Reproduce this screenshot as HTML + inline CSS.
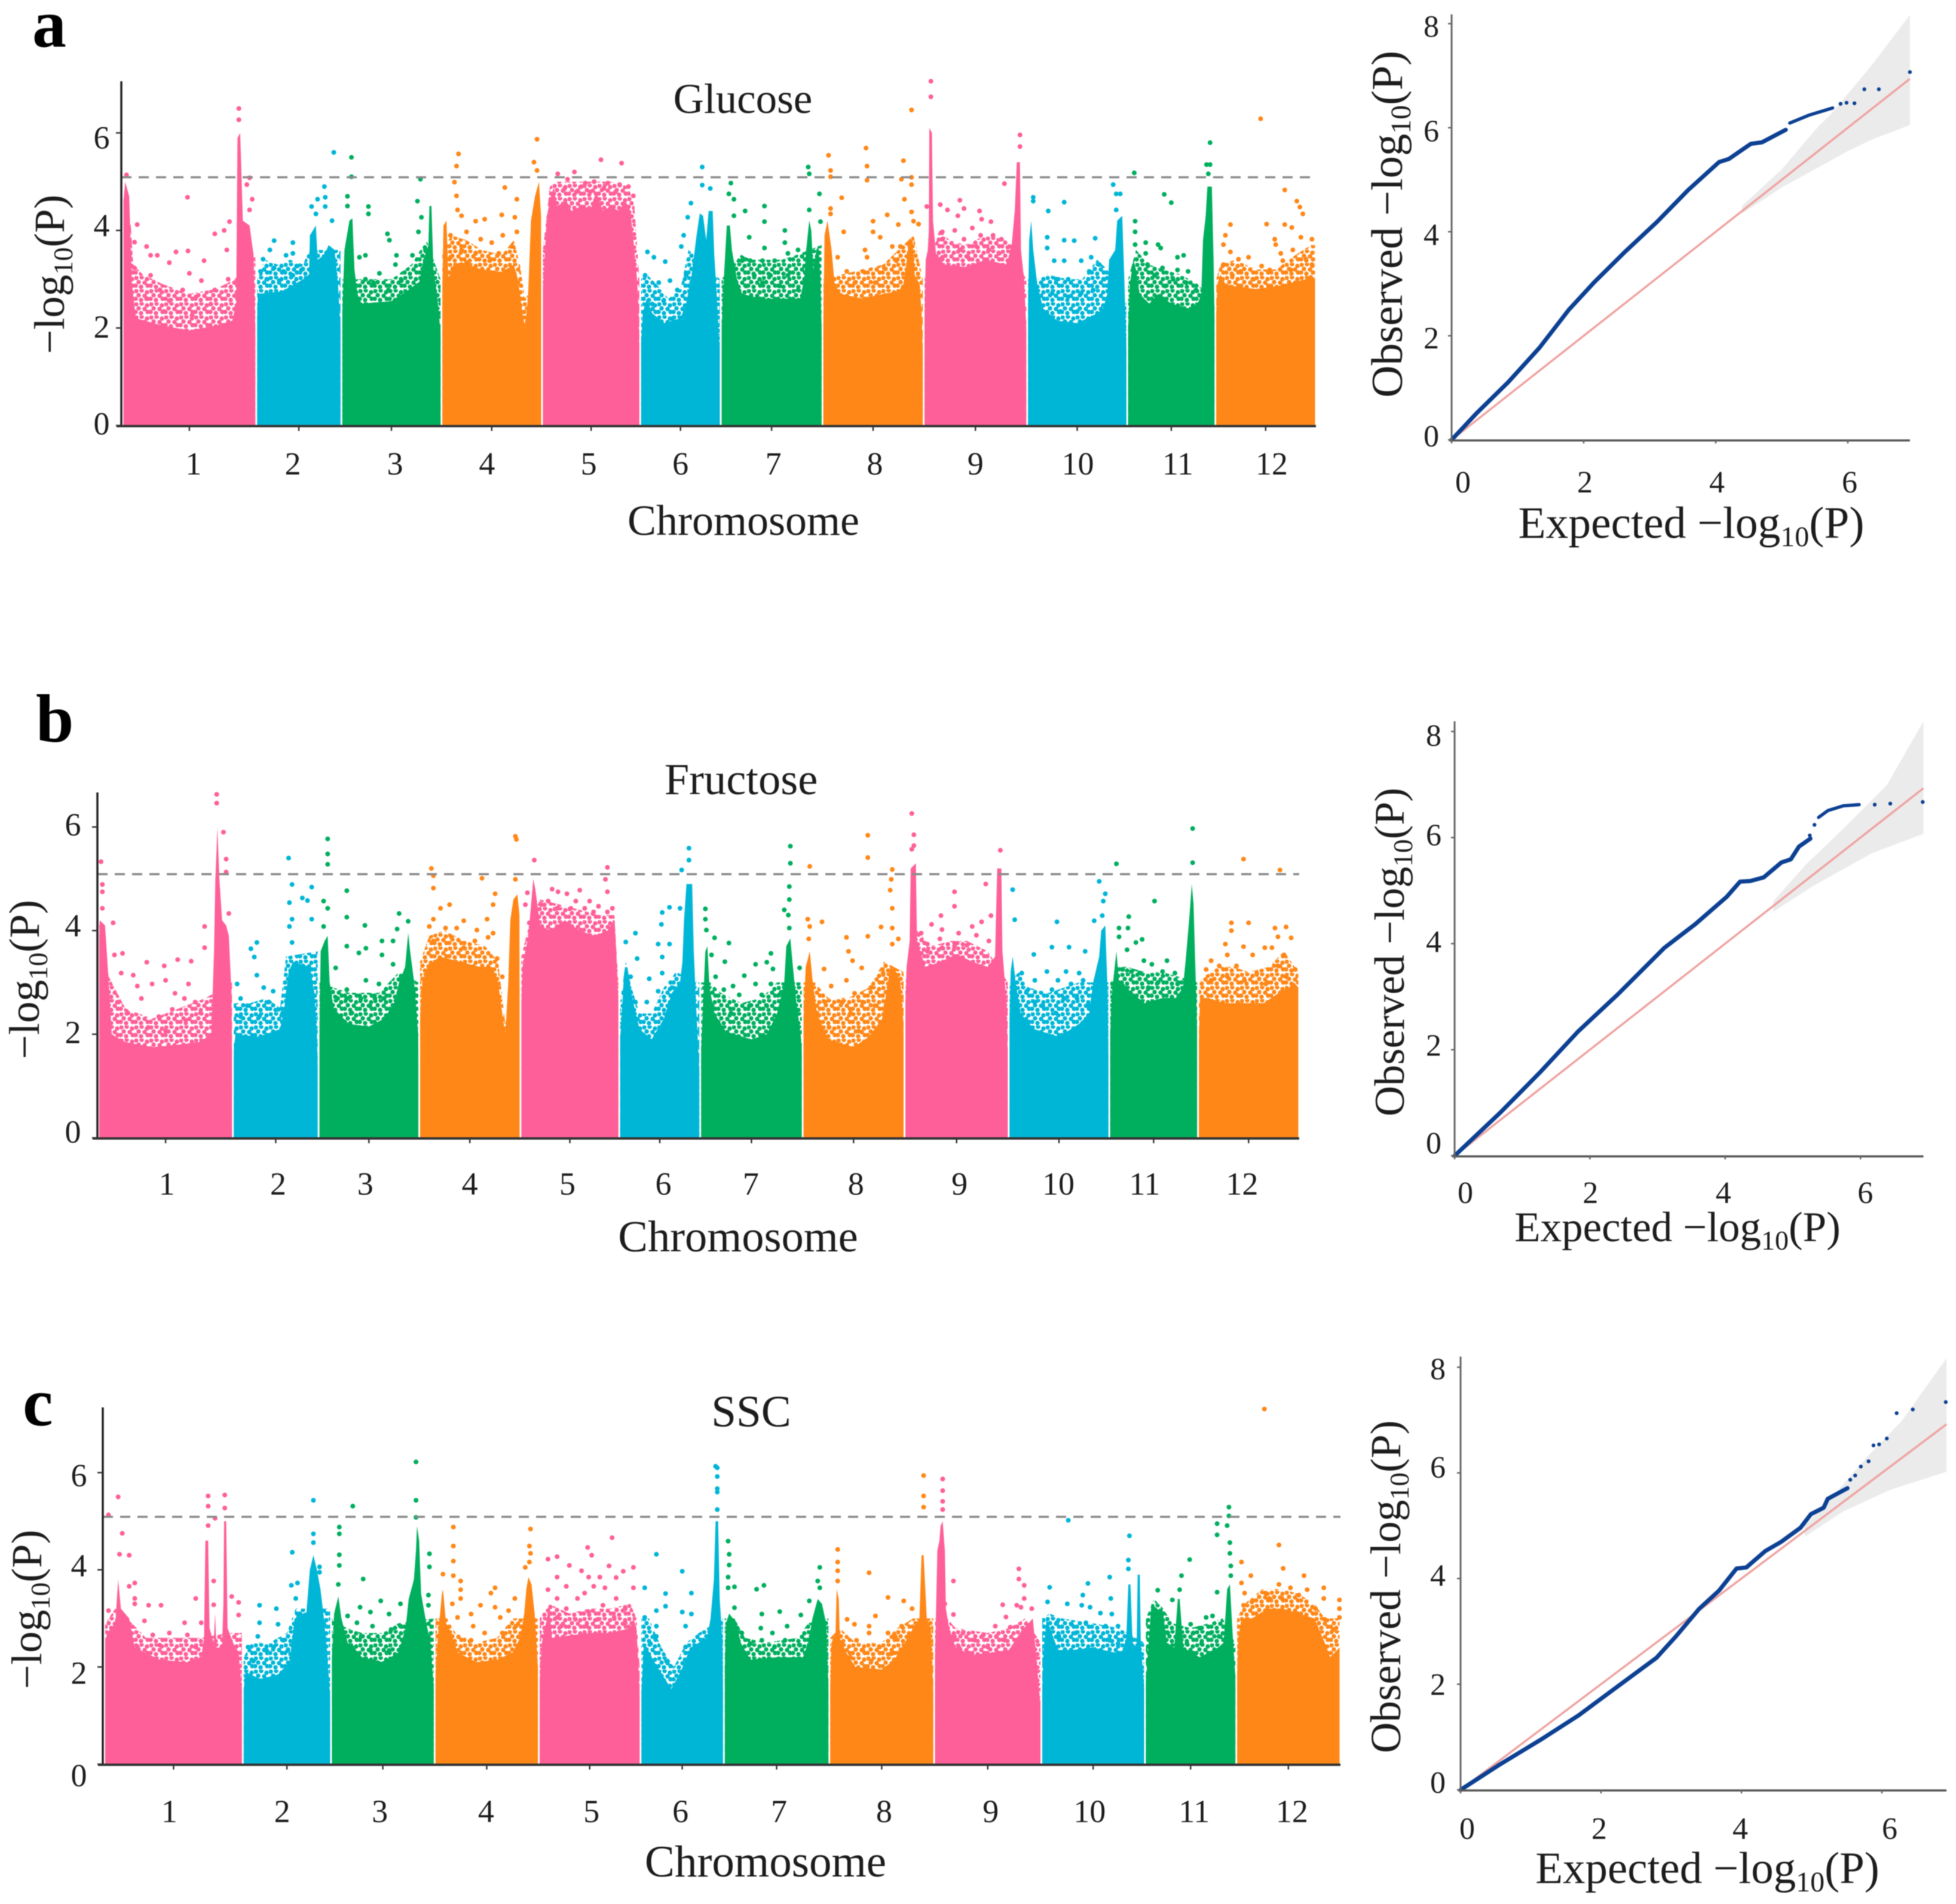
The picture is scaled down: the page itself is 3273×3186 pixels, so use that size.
<!DOCTYPE html>
<html lang="en">
<head>
<meta charset="utf-8">
<title>GWAS Manhattan and QQ plots for glucose, fructose and SSC</title>
<style>
html,body{margin:0;padding:0;background:#fff}
svg{display:block;filter:blur(.7px)}
text{font-family:"Liberation Serif",serif;fill:#1c1c1c}
.title{font-size:71px;text-anchor:middle}
.axt{font-size:72px;text-anchor:middle}
.panel{font-size:114px;font-weight:bold;fill:#000}
</style>
</head>
<body>
<svg id="fig" xmlns="http://www.w3.org/2000/svg" width="3273" height="3186" viewBox="0 0 3273 3186">
<defs id="patterns"></defs>
<rect x="0" y="0" width="3273" height="3186" fill="#fff"/>
<g id="charts"></g>

<text class="panel" x="54" y="78">a</text>
<text class="panel" x="60" y="1241">b</text>
<text class="panel" x="38" y="2385">c</text>

<text class="title" x="1243" y="189">Glucose</text>
<text class="title" style="font-size:74.5px" x="1240" y="1329">Fructose</text>
<text class="title" style="font-size:75px" x="1257" y="2387">SSC</text>

<text class="axt" x="1244" y="895">Chromosome</text>
<text class="axt" style="font-size:74.5px" x="1235" y="2094">Chromosome</text>
<text class="axt" style="font-size:75px" x="1281" y="3140">Chromosome</text>

<text class="axt" transform="translate(107 459) rotate(-90)">−log<tspan font-size="46" dy="14">10</tspan><tspan dy="-14">(P)</tspan></text>
<text class="axt" transform="translate(65 1639) rotate(-90)">−log<tspan font-size="46" dy="14">10</tspan><tspan dy="-14">(P)</tspan></text>
<text class="axt" transform="translate(69 2693) rotate(-90)">−log<tspan font-size="46" dy="14">10</tspan><tspan dy="-14">(P)</tspan></text>

<text class="axt" style="font-size:74.5px" transform="translate(2346 375) rotate(-90)">Observed −log<tspan font-size="48" dy="14">10</tspan><tspan dy="-14">(P)</tspan></text>
<text class="axt" style="font-size:70.5px" transform="translate(2349 1593) rotate(-90)">Observed −log<tspan font-size="46" dy="14">10</tspan><tspan dy="-14">(P)</tspan></text>
<text class="axt" style="font-size:71.5px" transform="translate(2343 2655) rotate(-90)">Observed −log<tspan font-size="46" dy="14">10</tspan><tspan dy="-14">(P)</tspan></text>

<text class="axt" style="font-size:75.5px" x="2830" y="900">Expected −log<tspan font-size="48" dy="14">10</tspan><tspan dy="-14">(P)</tspan></text>
<text class="axt" style="font-size:71px" x="2807" y="2077">Expected −log<tspan font-size="46" dy="14">10</tspan><tspan dy="-14">(P)</tspan></text>
<text class="axt" style="font-size:75px" x="2857" y="3151">Expected −log<tspan font-size="48" dy="14">10</tspan><tspan dy="-14">(P)</tspan></text>
</svg>

<script>
// ---------- shared data ----------
const chromLabels = ['1','2','3','4','5','6','7','8','9','10','11','12'];
const chromLengths = [226,144,169,170,166,136,172,171,175,169,149,170];
const manhattanTicks = [0,2,4,6];
const qqYTicks = [0,2,4,6,8];
const qqXTicks = [0,2,4,6];
const significanceLevel = 5.09;

// Per chromosome: flat pairs of (percent along chromosome, -log10 P).
// "Solid" is the top of the dense SNP mass, "Fringe" the top of the speckled band above it,
// "Dots" are the visible individual SNPs.
const glucoseSolid = [
[0,4.6,2,5.0,5,4.7,7,2.9,10,2.2,30,2.05,50,1.95,70,2.05,82,2.15,85,2.5,86,5.9,88,6.0,90,4.2,95,4.1,98,3.5,100,2.0],
[0,2.2,2,2.7,30,2.75,55,3.0,62,3.1,63,3.9,70,4.1,72,3.4,80,3.5,85,3.7,92,3.6,96,2.9,100,2.0],
[0,2.3,3,3.6,8,4.2,11,4.25,13,3.2,16,2.7,20,2.5,50,2.55,65,2.75,78,2.95,82,3.4,87,3.7,88,4.5,90,4.5,92,3.2,96,2.6,100,1.9],
[0,2.8,2,4.1,5,4.2,7,3.0,12,3.3,20,3.35,40,3.2,60,3.15,72,3.3,76,3.0,80,2.4,83,2.0,86,2.6,89,4.2,93,4.7,97,5.0,99,4.3,100,2.5],
[0,2.8,3,3.6,5,4.3,8,4.6,12,4.9,15,4.5,25,4.6,30,4.4,40,4.5,50,4.45,55,4.8,62,4.4,70,4.5,78,4.4,85,4.6,90,4.4,93,3.8,96,3.2,98,2.6,100,1.6],
[0,1.7,3,2.3,8,2.6,15,2.3,30,2.1,50,2.2,57,2.5,64,3.1,70,3.9,74,4.35,78,4.3,82,3.8,85,4.4,90,4.4,92,3.5,95,2.7,100,1.5],
[0,2.0,3,3.0,6,4.1,9,4.1,11,3.6,16,3.0,21,2.7,40,2.6,60,2.6,78,2.6,82,3.0,84,3.6,87,4.2,89,4.0,91,3.2,94,3.6,96,3.7,98,3.0,100,2.0],
[0,2.1,2,3.9,5,4.2,9,3.6,12,2.9,18,2.7,40,2.6,60,2.7,75,2.75,80,2.9,84,3.5,85,3.8,89,3.8,91,3.1,96,2.9,98,2.3,100,1.5],
[0,2.2,2,3.4,4,3.6,5,4.0,5.5,6.1,8,6.0,9,4.2,12,3.5,20,3.3,40,3.25,60,3.4,80,3.3,85,3.7,88,4.4,90,5.4,93,5.4,94,3.6,97,3.0,100,2.0],
[0,2.5,2,3.8,4,4.2,6,3.6,10,2.9,16,2.4,30,2.15,50,2.1,70,2.3,76,2.4,80,2.7,82,3.4,88,3.6,90,4.2,95,4.3,97,3.1,100,1.6],
[0,2.0,3,2.9,7,3.4,10,3.2,14,2.7,25,2.5,35,2.7,50,2.5,70,2.4,80,2.5,84,2.7,86,3.8,89,4.3,91,4.9,96,4.9,98,3.4,100,2.2],
[0,2.3,2,2.9,5,3.1,10,2.9,20,2.85,40,2.8,60,2.85,80,2.95,90,3.0,95,3.1,100,3.0]
];
const glucoseFringe = [
[0,4.8,6,4.2,8,3.3,15,3.1,30,2.9,50,2.7,70,2.8,84,3.0,100,3.5],
[0,3.0,10,3.4,25,3.3,40,3.4,55,3.3,62,3.6,100,3.6],
[0,3.0,15,3.0,25,3.0,50,3.0,70,3.3,85,3.8,100,3.0],
[0,3.6,10,3.9,25,3.8,40,3.6,60,3.5,72,3.8,78,3.3,83,2.6,100,3.0],
[0,3.6,8,4.9,15,5.0,30,5.0,50,5.0,70,5.0,88,4.9,94,4.5,100,3.0],
[0,3.0,8,3.1,20,2.9,35,2.6,50,2.8,60,3.6,100,3.0],
[0,3.0,20,3.5,30,3.4,60,3.4,75,3.5,100,3.7],
[0,3.0,20,3.1,40,3.2,60,3.3,75,3.6,90,3.9,100,3.0],
[0,3.0,15,4.0,25,3.8,40,3.7,60,3.9,80,3.8,100,3.0],
[0,3.0,12,3.0,20,3.1,40,3.0,55,3.0,70,3.4,80,3.2,100,2.5],
[0,3.0,10,3.6,25,3.3,40,3.2,60,3.1,80,2.9,100,2.5],
[0,3.0,5,3.3,20,3.4,40,3.2,60,3.2,80,3.5,95,3.7,100,3.7]
];
const glucoseDots = [
[87,6.5,87,6.27,3,5.14,95,5.08,93,4.94,97,4.64,95,4.42,48.6,4.68,11,4.12,9,3.76,18,3.67,21,3.49,26,3.49,40,3.56,49,3.58,35,3.34,61,3.38,69,3.93,76,4.0,80,4.18,78,3.6,9,3.23,21,3.08,50,3.12,59,2.97,28,2.78,45,2.78,69,2.78,18,2.6,35,2.56,55,2.64,79,3.0,31,2.34,52,2.26,66,2.49],
[91,5.6,80,4.9,81,4.68,72,4.64,65,4.49,70,4.34,81,4.49,89,4.2,21,3.79,43,3.75,16,3.6,35,3.49,43,3.53,8,3.41,21,3.23,48,3.27,5,3.16,32,3.16,53,3.19,13,3.0,27,2.97,43,3.08],
[10,5.5,10,5.1,6,4.7,6,4.5,27,4.49,27,4.34,46,3.93,48,3.8,79,5.05,76,4.6,80,4.27,77,3.97,24,3.49,18,3.45,55,3.49,71,3.49,84,3.6,38,3.12,54,3.3,24,3.0,32,2.93,47,2.78,60,2.97,24,2.41,38,2.34,56,2.3],
[17,5.57,15,5.32,13,4.99,15,4.71,16,4.42,20,4.3,92,5.4,95,5.87,95,5.23,63,4.88,75,4.64,60,4.32,73,4.27,43,4.23,34,4.19,75,3.97,61,3.9,25,3.97,39,3.82,9,3.9,50,3.75,20,3.6,34,3.53,70,3.67,9,3.45,48,3.38,25,3.34,57,3.53],
[16,5.16,33,5.2,60,5.45,81,5.38,26,5.05,44,4.97,53,5.0,67,4.97,88,4.9,79,4.94,40,4.9,23,4.86,63,4.86,93,4.71,9,4.64,35,4.79,75,4.79,49,4.79],
[77,5.3,77,4.93,87,4.86,63,4.56,59,4.27,54,3.9,9,3.56,17,3.45,31,3.36,51,3.67,23,2.93,37,2.97,6,3.08,29,2.56,46,2.78,57,3.08,15,2.49,40,2.19],
[10,4.97,8,4.75,13,4.64,24,4.4,43,4.5,43,4.18,13,4.3,28,3.86,63,4.0,86,5.3,87,5.16,97,4.75,87,4.42,98,4.18,43,3.64,63,3.75,76,3.6,21,3.38,29,3.38,41,3.38,53,3.38,66,3.53,33,3.08,49,3.08,66,3.08,25,2.86,58,2.86,76,2.78,41,2.93],
[6,5.54,8,5.23,8,5.1,19,4.67,8,4.45,8,4.34,43,5.69,44,5.32,44,5.03,80,5.43,78,5.05,88,6.47,88,5.09,88,4.94,81,4.64,88,4.38,90,4.19,95,4.13,64,4.32,50,4.19,50,3.97,75,4.12,21,3.97,57,3.86,42,3.6,69,3.67,77,3.67,15,3.45,44,3.45,24,3.16,61,3.23,40,3.16,73,3.38,32,2.93,52,2.93],
[7,7.06,7,6.74,3,4.49,16,4.53,23,4.42,35,4.62,39,4.45,54,4.4,33,4.3,56,4.23,65,4.18,78,4.96,93,5.96,93,5.72,18,3.97,30,4.0,47,4.05,18,3.82,39,3.82,55,3.9,67,3.9,75,3.82,35,3.6,51,3.67,63,3.6,83,3.67,43,3.45,18,3.45,73,3.53],
[6,4.68,6,4.6,21,4.4,37,4.58,86,4.94,89,4.75,93,4.75,89,4.42,20,3.86,37,3.8,47,3.79,68,3.84,20,3.64,27,3.38,37,3.38,54,3.38,64,3.45,72,3.3,29,3.0,41,3.0,62,3.16,77,3.0,16,2.86,25,2.71,41,2.64,54,2.71,66,2.78,33,2.34,50,2.34],
[8,5.18,94,5.8,90,5.35,94,5.35,92,5.16,42,4.74,50,4.57,9,4.19,9,3.97,9,3.71,21,3.75,35,3.71,38,3.64,21,3.53,57,3.45,64,3.49,23,3.3,40,3.23,57,3.19,69,3.16,31,3.08,52,3.0,67,2.93,78,2.78,43,2.86],
[45,6.29,69,4.83,81,4.6,84,4.48,87,4.34,15,4.12,51,4.13,69,4.12,76,4.06,10,3.9,59,3.82,60,3.71,85,3.86,96,3.82,8,3.71,15,3.56,65,3.53,77,3.6,33,3.45,23,3.41,8,3.3,46,3.27,67,3.38,90,3.41,25,3.16,54,3.19,38,3.0,75,3.19,96,3.3,17,3.08]
];

const fructoseSolid = [
[0,3.9,1,4.2,5,4.1,8,2.9,10,2.0,20,1.85,40,1.75,60,1.8,75,1.85,84,2.0,86,3.6,87,5.0,88.5,6.0,90,5.0,92,4.2,95,4.1,97,3.9,99,2.8,100,1.6],
[0,1.7,3,2.0,30,1.95,55,2.1,60,2.5,65,3.2,70,3.4,80,3.35,90,3.3,95,2.8,98,2.0,100,1.4],
[0,2.0,2,3.6,6,3.8,9,3.9,11,3.0,15,2.5,30,2.2,50,2.15,65,2.3,75,2.6,80,3.0,86,3.3,89,3.95,91,3.6,95,3.0,99,2.0,100,1.4],
[0,2.3,3,3.0,8,3.3,20,3.5,40,3.4,60,3.3,72,3.3,78,3.0,82,2.4,85,2.0,88,3.0,90,4.2,93,4.6,97,4.7,99,4.3,100,2.6],
[0,2.6,2,3.3,8,3.9,13,5.0,15,4.8,20,4.1,30,4.0,45,4.2,60,4.0,75,3.9,88,4.0,95,4.2,97,3.6,99,2.6,100,1.6],
[0,1.9,3,2.4,6,3.2,10,3.3,16,2.7,25,2.1,40,1.9,55,2.3,65,2.8,75,3.0,78,3.4,80,4.2,83,4.9,90,4.9,92,3.6,95,2.5,100,1.3],
[0,1.7,3,2.7,5,3.6,7,3.7,9,2.9,14,2.4,25,2.05,50,1.9,65,2.0,75,2.4,82,3.0,84,3.7,88,3.85,90,3.4,94,2.6,98,2.0,100,1.7],
[0,2.3,3,3.3,7,3.6,10,3.0,14,2.4,25,1.9,50,1.75,65,1.95,78,2.3,83,2.9,86,3.3,92,3.2,96,3.0,99,2.2,100,1.7],
[0,2.6,2,3.3,5,3.8,6,5.2,11,5.3,12,3.8,20,3.3,35,3.4,50,3.55,65,3.4,80,3.3,87,3.5,89,5.2,93,5.2,94,3.6,98,2.6,100,1.6],
[0,2.3,2,3.2,4,3.5,7,3.0,12,2.4,25,2.1,50,1.95,70,2.2,80,2.4,84,3.0,90,3.5,92,4.0,96,4.1,98,3.0,100,1.6],
[0,2.0,3,2.8,8,3.6,11,3.0,15,3.0,25,2.8,40,2.6,60,2.7,75,2.7,83,2.9,86,3.4,90,4.2,93,4.9,95,4.5,97,3.3,100,2.1],
[0,1.9,2,2.7,10,2.7,25,2.6,45,2.6,65,2.6,80,2.8,90,2.9,95,3.0,100,2.9]
];
const fructoseFringe = [
[0,4.3,8,3.1,20,2.5,40,2.3,60,2.5,80,2.7,100,3.0],
[0,2.6,20,2.6,40,2.7,55,2.5,62,3.5,100,3.6],
[0,3.0,15,2.9,30,2.8,60,2.8,80,3.2,100,3.0],
[0,3.4,10,3.9,25,4.0,45,3.8,65,3.7,78,3.4,85,2.2,100,3.0],
[0,3.5,10,4.2,20,4.6,40,4.5,60,4.4,80,4.3,95,4.3,100,3.0],
[0,2.6,8,3.4,15,2.9,25,2.4,40,2.4,55,2.9,70,3.2,100,3.0],
[0,3.0,10,3.0,20,2.8,40,2.6,60,2.7,75,3.0,100,3.0],
[0,3.0,12,3.0,25,2.7,45,2.7,65,2.9,80,3.4,100,3.2],
[0,3.0,12,4.0,25,3.7,45,3.8,60,3.8,80,3.6,100,3.0],
[0,3.0,10,3.2,20,2.9,40,2.8,55,2.9,70,3.0,80,3.0,100,3.0],
[0,3.0,10,3.3,20,3.3,40,3.2,60,3.2,80,3.1,100,3.0],
[0,3.0,5,3.1,20,3.3,35,3.3,50,3.2,70,3.3,85,3.6,100,3.2]
];
const fructoseDots = [
[88,6.63,88,6.46,93,5.9,2,5.33,3,4.89,3,4.75,3,4.43,11,4.15,95,5.38,95,5.13,97,4.33,79,4.08,79,3.67,12,3.53,18,3.56,36,3.39,49,3.32,59,3.44,69,3.41,17,3.18,26,3.14,50,3.04,67,2.97,29,2.93,40,2.97,57,2.79,15,2.62,32,2.69,64,2.69,72,2.62,45,2.34,22,2.41,55,2.48,37,2.13,50,2.06,65,2.27,76,2.41],
[65,5.4,69,4.89,92,4.84,81,4.63,66,4.54,87,4.58,69,4.22,92,4.22,66,4.08,28,3.77,21,3.65,25,3.49,69,3.77,28,3.14,5,2.97,9,2.69,36,2.9,47,2.83,17,2.55,42,2.62,53,2.48,9,2.34,31,2.34,58,2.41],
[9,5.77,9,5.48,9,5.28,28,4.77,5,4.57,9,4.43,28,4.26,46,4.1,80,4.33,89,4.18,5,4.08,78,4.03,28,3.7,47,3.66,40,3.57,63,3.8,74,3.8,63,3.53,74,3.35,17,3.28,47,3.04,28,2.86,60,2.97,19,2.69,42,2.69,65,2.69,28,2.69,56,2.69,33,2.41,60,2.2,51,2.55],
[95,5.82,96,5.76,12,5.2,14,5.06,14,4.82,62,5.01,95,4.99,75,4.71,73,4.5,30,4.5,21,4.43,14,4.22,44,4.19,67,4.22,10,4.08,26,4.05,37,4.05,57,4.01,73,3.95,55,3.8,32,3.87,14,3.8,68,3.87,44,3.67,77,3.46,82,3.11],
[14,5.36,88,5.22,86,4.99,88,4.75,7,4.73,5,4.5,9,4.15,32,4.8,60,4.78,47,4.71,38,4.75,70,4.57,93,4.43,28,4.57,79,4.47,56,4.57,65,4.43,21,4.5,37,4.43,51,4.43,88,4.36,74,4.36],
[86,5.59,86,5.36,77,5.17,20,3.95,8,3.78,75,4.43,62,4.45,53,4.35,52,4.12,48,3.74,62,3.74,22,3.46,53,3.49,37,3.07,53,3.18,14,3.11,48,2.83,20,2.62,34,2.62,65,2.9],
[88,5.63,88,5.3,87,4.85,87,4.6,82,4.4,86,4.3,87,4.05,5,4.42,5,4.22,6,4.01,14,3.86,28,3.76,11,3.53,24,3.4,69,3.56,54,3.35,65,3.39,71,3.26,43,3.13,97,3.28,15,3.11,54,2.97,32,2.93,69,2.97,23,2.86,38,2.76,60,2.76,48,2.55,77,2.76,30,2.41,65,2.55],
[64,5.84,64,5.41,7,5.24,88,5.18,87,4.99,86,4.78,88,4.43,5,4.22,7,4.08,19,4.17,6,3.84,43,3.87,64,3.89,77,4.07,88,4.05,94,3.84,45,3.6,49,3.42,88,3.74,21,3.26,58,3.28,43,3.04,28,2.93,79,3.18,67,2.9,51,2.79,22,2.62,39,2.62,59,2.62,14,2.41,47,2.41,71,2.55,26,2.13,55,2.06],
[7,6.26,9,5.85,9,5.64,7,5.57,92,5.55,78,4.9,48,4.75,48,4.47,35,4.29,83,4.29,74,4.17,26,4.12,36,4.02,16,3.95,65,4.08,52,3.95,69,3.91,34,3.84,22,3.74,60,3.72,36,3.67,81,3.8,48,3.7,22,3.6],
[4,4.79,6,4.21,48,4.17,90,4.95,96,4.71,94,4.57,85,4.19,93,4.29,43,3.68,60,3.68,25,3.54,76,3.6,38,3.21,57,3.21,70,3.18,13,3.18,26,3.04,49,3.04,62,2.97,74,3.04,18,2.83,43,2.86,55,2.69,68,2.69,26,2.62,47,2.41,34,2.55,80,2.55],
[94,5.97,94,5.31,8,5.29,51,4.57,22,4.27,11,4.05,21,4.05,11,3.88,37,3.83,30,3.77,20,3.63,15,3.25,25,3.21,39,3.42,48,3.35,65,3.42,74,3.18,60,3.21,34,3.18,55,3.0,77,2.97,44,2.9],
[45,5.38,81,5.17,33,4.15,50,4.15,33,4.0,76,4.05,87,4.07,79,3.88,92,3.86,27,3.74,45,3.69,66,3.67,13,3.42,29,3.53,54,3.53,73,3.67,85,3.53,8,3.25,21,3.32,38,3.32,58,3.18,79,3.32,96,3.25,46,3.04,29,3.11,67,2.97,87,3.11,13,3.04]
];

const sscSolid = [
[0,2.5,2,2.7,8,2.9,10,3.8,12,3.2,18,3.0,22,2.4,40,2.15,60,2.1,70,2.2,72,2.6,73,4.6,75,4.6,76,2.8,79,2.5,80,3.1,81,2.4,85,2.4,86,3.3,86.5,5.0,88,5.0,89,2.8,93,2.5,97,2.3,100,1.5],
[0,1.5,3,1.9,20,1.75,40,1.85,53,2.1,58,2.9,62,3.1,72,3.1,76,4.0,80,4.3,84,4.0,88,3.6,92,3.0,96,2.2,100,1.4],
[0,2.2,3,3.1,7,3.45,10,3.0,16,2.5,30,2.2,50,2.1,65,2.3,72,2.8,75,3.4,80,3.8,82,4.4,83,4.9,85,4.6,87,3.5,92,2.9,96,2.5,100,1.6],
[0,1.8,3,2.6,7,3.5,8,3.6,11,2.9,16,2.7,22,2.3,40,2.1,60,2.15,75,2.3,82,2.6,86,3.1,88,3.6,90,3.85,93,3.7,96,3.1,100,2.0],
[0,1.7,3,2.5,8,3.0,10,3.3,13,2.6,30,2.65,50,2.7,70,2.7,90,2.8,93,3.0,96,2.8,98,2.0,100,1.4],
[0,1.5,4,2.5,20,2.0,37,1.55,48,1.9,60,2.4,70,2.5,80,2.6,84,3.0,88,3.8,90,5.0,93,5.0,95,3.4,98,2.6,100,1.5],
[0,2.0,2,2.9,5,3.1,12,2.9,16,2.5,25,2.15,50,2.2,75,2.2,80,2.5,84,3.0,89,3.4,93,3.3,97,2.9,100,1.6],
[0,1.6,2,2.5,6,2.7,7,3.6,9,3.4,10,2.6,16,2.3,25,2.0,50,1.95,62,2.15,72,2.5,80,2.8,86,3.0,88,4.3,90,4.3,93,3.0,97,2.8,100,1.5],
[0,2.2,2,3.4,3,4.4,5,4.6,6,4.9,8,5.0,10,4.4,11,3.2,14,2.8,20,2.4,35,2.25,55,2.3,70,2.35,80,2.7,88,2.9,92,3.0,95,2.3,100,1.2],
[0,1.5,2,2.3,5,3.0,10,2.7,16,2.35,30,2.35,50,2.4,70,2.3,78,2.3,82,2.6,84,3.7,86,3.7,88,2.5,92,2.4,93,3.9,95,3.9,96,2.5,100,1.6],
[0,1.7,3,2.2,7,3.3,20,3.1,24,2.5,32,2.4,36,3.4,38,3.4,42,2.4,60,2.2,80,2.4,86,2.5,88,3.0,90,3.6,93,3.7,96,2.7,100,1.8],
[0,1.8,2,2.6,5,3.0,15,3.0,30,3.2,45,3.2,60,3.1,75,3.0,85,2.5,90,2.2,100,2.4]
];
const sscFringe = [
[0,2.9,8,3.2,20,2.9,30,2.6,50,2.6,70,2.6,90,2.7,100,2.7],
[0,2.2,10,2.5,30,2.5,50,2.7,60,3.2,100,3.2],
[0,3.0,15,2.8,30,2.7,50,2.7,65,2.9,100,3.0],
[0,3.0,12,3.0,20,2.7,40,2.5,60,2.6,75,3.0,100,3.0],
[0,3.0,10,3.3,30,3.1,50,3.2,70,3.2,90,3.3,96,3.0,100,2.0],
[0,3.0,10,3.0,25,2.4,40,2.0,55,2.5,70,2.7,100,3.0],
[0,3.0,10,3.0,20,2.6,40,2.5,70,2.6,80,2.9,100,3.0],
[0,2.6,10,2.8,25,2.5,50,2.5,65,2.8,80,3.0,100,3.0],
[0,3.0,12,3.0,20,2.8,50,2.7,70,2.8,85,3.0,100,2.5],
[0,3.0,8,3.1,20,3.0,50,2.9,75,2.8,100,2.5],
[0,3.0,10,3.4,20,3.2,30,2.9,50,2.8,70,2.9,85,3.0,100,2.5],
[0,3.0,8,3.3,25,3.6,45,3.6,60,3.5,75,3.3,85,3.0,100,3.0]
];
const sscDots = [
[3,5.13,10,5.5,13,4.75,11,4.32,18,4.3,22,3.73,18,3.66,22,3.41,22,3.3,32,3.27,41,3.27,3,3.16,66,3.41,58,2.91,70,2.91,29,2.95,35,2.66,47,2.7,60,2.66,24,2.41,40,2.45,66,2.41,75,5.52,75,5.31,80,5.06,75,4.91,87,5.54,87,5.27,79,3.77,79,3.28,92,3.45,97,3.33,97,3.07],
[80,5.43,80,4.74,80,4.56,56,4.36,55,3.68,62,3.73,87,4.06,87,3.95,60,3.41,19,3.27,38,3.2,19,2.91,40,2.88,6,2.41,17,2.63,27,2.34,46,2.55,35,2.41,12,2.12,51,2.34,72,3.05],
[82,6.22,82,5.43,82,5.08,8,4.88,8,4.74,21,5.31,8,4.31,8,4.09,31,3.81,7,3.7,95,4.33,95,4.06,94,3.48,94,3.27,48,3.36,28,3.23,16,3.05,38,3.13,56,3.09,67,3.3,25,2.91,40,2.84,58,2.77,29,2.63,47,2.55,67,2.84,20,2.41,38,2.34,56,2.34],
[18,4.88,18,4.49,18,4.18,92,4.84,91,4.49,92,4.34,91,4.16,87,4.05,8,3.91,18,3.88,25,3.77,25,3.59,25,3.41,58,3.63,54,3.52,44,3.27,58,3.23,77,3.41,71,3.16,17,3.3,35,3.09,22,3.02,63,3.02,48,2.7,37,2.84,78,2.84,65,2.7,35,2.55],
[72,4.66,48,4.46,52,4.3,18,4.27,9,4.22,30,4.09,69,4.08,93,4.05,83,3.97,42,3.98,18,3.85,49,3.85,60,3.85,76,3.84,27,3.66,54,3.66,65,3.63,93,3.63,9,3.59,45,3.52,18,3.41,38,3.41,76,3.41,63,3.27,27,3.2,49,3.13,85,3.2,18,3.02,36,2.98,58,2.98,74,3.02,47,2.84,22,2.84,85,2.91],
[90,6.13,92,6.1,92,5.92,92,5.67,92,5.6,92,5.24,19,4.32,50,3.97,30,3.51,61,3.52,5,3.63,19,3.16,30,3.25,50,3.13,61,3.09,5,3.02,19,2.84,54,2.84,19,2.63,12,2.48,54,2.41,59,2.12,31,2.12],
[4,4.59,5,4.32,5,4.1,4,3.85,4,3.63,10,3.65,10,3.22,31,3.6,38,3.68,53,3.14,36,3.09,73,3.07,81,3.36,91,4.05,89,3.77,91,3.63,60,2.84,35,2.8,46,2.7,17,2.7,25,2.48,58,2.55,72,2.45,36,2.55,48,2.41,33,2.02,56,1.77],
[8,4.42,8,4.16,8,3.98,8,3.77,38,3.94,56,3.43,71,3.36,79,3.2,44,3.05,90,5.94,90,5.52,90,5.29,17,2.98,24,2.88,38,2.84,56,2.7,69,2.84,38,2.7,12,2.48,26,2.55,63,2.63,32,2.34,48,2.41,59,2.27,20,2.2,40,2.12],
[8,5.87,8,5.63,8,5.41,8,5.24,18,3.77,18,3.08,10,3.3,79,4.02,79,3.81,84,3.68,84,3.41,77,3.27,81,3.23,91,3.2,64,3.28,67,3.03,57,2.84,71,2.82,27,2.7,46,2.66,19,2.63,38,2.55,58,2.63,66,2.55,23,2.41,50,2.41,30,2.27,29,1.62],
[26,5.02,85,4.7,84,4.2,84,4.02,66,3.85,45,3.72,8,3.64,40,3.48,67,3.41,6,3.34,25,3.3,39,3.27,47,3.23,57,3.11,68,3.09,15,2.91,29,2.88,43,2.91,62,2.84,74,2.84,17,2.63,33,2.7,51,2.63,74,2.48,66,2.55],
[92,5.29,92,5.11,79,4.95,90,4.91,79,4.72,93,4.56,93,4.34,94,4.08,94,3.88,49,4.21,40,3.88,14,3.58,38,3.59,79,3.54,30,3.38,67,3.02,50,2.88,74,3.05,60,2.8,53,2.7,72,2.7,25,2.7,81,2.63,46,2.48,62,2.48],
[27,7.31,41,4.51,45,4.03,5,4.16,14,3.88,5,3.73,65,3.88,41,3.7,52,3.63,84,3.63,8,3.52,28,3.52,68,3.59,84,3.41,99,3.38,99,3.2,99,3.02,7,3.27,44,3.41,60,3.48,76,3.2,85,2.98,93,2.77,15,3.34,32,3.41]
];

// QQ series: flat pairs (expected, observed)
const glucoseQQLine = [0,0,.385,.52,.858,1.11,1.33,1.77,1.775,2.5,2.16,3.03,2.63,3.62,3.11,4.19,3.58,4.8,4.05,5.34,4.2,5.4,4.53,5.69,4.7,5.72,5.06,5.96];
const glucoseQQLine2 = [5.12,6.09,5.41,6.24,5.77,6.38];
const glucoseQQDots = [5.89,6.46,5.98,6.48,6.1,6.47,6.25,6.74,6.47,6.74,6.94,7.07];
const glucoseBandUpper = [4.4,4.5,5,5.2,5.5,5.95,5.77,6.3,6.36,7.2,6.94,8.17];
const glucoseBandLower = [4.4,4.35,5,4.85,5.5,5.2,6,5.55,6.36,5.77,6.94,6.05];

const fructoseQQLine = [0,0,.68,.82,1.26,1.57,1.83,2.35,2.41,3.04,3.1,3.92,3.56,4.37,4.02,4.88,4.22,5.17,4.37,5.18,4.57,5.25,4.83,5.53,4.97,5.59,5.09,5.83,5.26,5.98];
const fructoseQQLine2 = [5.38,6.38,5.52,6.51,5.75,6.6,5.98,6.62];
const fructoseQQDots = [5.25,6.04,5.32,6.24,6.21,6.62,6.44,6.64,6.92,6.67];
const fructoseBandUpper = [4.71,4.8,5.2,5.5,5.75,6.17,6.39,6.99,6.93,8.19];
const fructoseBandLower = [4.71,4.6,5.29,5.08,6.16,5.7,6.93,6.07];

const sscQQLine = [0,0,.57,.49,1.13,.94,1.68,1.41,2.24,1.96,2.79,2.5,3.07,2.91,3.4,3.43,3.68,3.77,3.93,4.19,4.07,4.21,4.34,4.52,4.56,4.69,4.84,4.96,4.99,5.22,5.17,5.34,5.23,5.51,5.51,5.71];
const sscQQLine2 = [];
const sscQQDots = [5.55,5.87,5.62,5.95,5.7,6.12,5.81,6.22,5.88,6.52,5.96,6.54,6.07,6.65,6.21,7.13,6.44,7.2,6.91,7.34];
const sscBandUpper = [4.9,5.0,5.29,5.54,5.78,6.29,6.28,6.98,6.92,8.17];
const sscBandLower = [4.9,4.79,5.45,5.27,6.12,5.68,6.92,6.02];

// ---------- layout (pixels) ----------
const chromColors = ['#FF5F98','#00B6D7','#00AF5E','#FF8717'];
const manhattanPanels = [
 {id:'glucose',axisX:203,left:205,right:2202,base:712,unit:81.6,top:136,labelY:794,yLabelX:170,
  solid:glucoseSolid,fringe:glucoseFringe,dots:glucoseDots,
  labelNudge:[7,-10,6,-8,-4,0,3,3,0,1,11,10],yNudge:[-3,-2,-8,8]},
 {id:'fructose',axisX:163,left:164.5,right:2174,base:1904,unit:86.7,top:1326,labelY:1999,yLabelX:122,
  solid:fructoseSolid,fringe:fructoseFringe,dots:fructoseDots,
  labelNudge:[2,4,-6,0,-4,6,-1,4,5,-1,-15,-11],yNudge:[-10,-3,-8,-4]},
 {id:'ssc',axisX:172,left:174.5,right:2243,base:2952,unit:81.3,top:2355,labelY:3049,yLabelX:132,
  solid:sscSolid,fringe:sscFringe,dots:sscDots,
  labelNudge:[-7,-8,-5,-1,3,-3,4,4,5,-6,6,6],yNudge:[19,10,-7,5]}
];
const qqPanels = [
 {id:'glucose',x0:2429,xUnit:110.5,base:736,yUnit:87.05,xMax:6.94,top:24,labelY:824,yLabelX:2395,
  line:glucoseQQLine,line2:glucoseQQLine2,dots:glucoseQQDots,upper:glucoseBandUpper,lower:glucoseBandLower,
  xNudge:[19,2,2,3],yNudge:[-6,4,5,6,5]},
 {id:'fructose',x0:2434,xUnit:113.2,base:1934,yUnit:88.75,xMax:6.93,top:1207,labelY:2013,yLabelX:2399,
  line:fructoseQQLine,line2:fructoseQQLine2,dots:fructoseQQDots,upper:fructoseBandUpper,lower:fructoseBandLower,
  xNudge:[18,1,-3,8],yNudge:[-21,-7,-3,-4,7]},
 {id:'ssc',x0:2444,xUnit:117.5,base:2995,yUnit:88.4,xMax:6.92,top:2270,labelY:3077,yLabelX:2406,
  line:sscQQLine,line2:sscQQLine2,dots:sscQQDots,upper:sscBandUpper,lower:sscBandLower,
  xNudge:[11,-3,-2,13],yNudge:[-12,1,-5,-9,3]}
];

const NS = 'http://www.w3.org/2000/svg';
const root = document.getElementById('charts');
function add(parent, tag, attrs, txt){
  const el = document.createElementNS(NS, tag);
  for (const k in attrs) el.setAttribute(k, attrs[k]);
  if (txt !== undefined) el.textContent = txt;
  parent.appendChild(el);
  return el;
}

// speckle texture for the semi-dense band above each chromosome's solid mass
const defs = document.getElementById('patterns');
const speckleCells = [[3,3],[12,2],[21,5],[7,10],[17,11],[2,16],[11,18],[22,16]];
chromColors.forEach((color,i)=>{
  const pat = add(defs,'pattern',{id:'speckle-'+i,width:25,height:22,patternUnits:'userSpaceOnUse'});
  speckleCells.forEach(c=>add(pat,'circle',{cx:c[0],cy:c[1],r:3.7,fill:color}));
});

function drawManhattan(p){
  const total = chromLengths.reduce((a,b)=>a+b,0);
  const xScale = pos => p.left + pos/total*(p.right-p.left);
  const yScale = v => p.base - v*p.unit;
  const g = add(root,'g',{});
  
  
  let cum = 0;
  chromLengths.forEach((len,i)=>{
    const color = chromColors[i%4];
    const xa = xScale(cum), xb = xScale(cum+len);
    const cx = pct => xa + pct/100*(xb-xa);
    const outline = s => {
      let d = 'M'+(xa+1.5).toFixed(1)+' '+p.base;
      for (let k=0;k<s.length;k+=2){
        const px = Math.min(Math.max(cx(s[k]),xa+1.5),xb-1.5);
        d += 'L'+px.toFixed(1)+' '+yScale(s[k+1]).toFixed(1);
      }
      return d + 'L'+(xb-1.5).toFixed(1)+' '+p.base+'Z';
    };
    const chromGroup = add(g,'g',{});
    
    
    const band = add(chromGroup,'path',{d:outline(p.fringe[i]),fill:'url(#speckle-'+(i%4)+')'});
    
    
    const area = add(chromGroup,'path',{d:outline(p.solid[i]),fill:color});
    
    
    const pts = p.dots[i];
    for (let k=0;k<pts.length;k+=2){
      const c = add(chromGroup,'circle',{cx:cx(pts[k]).toFixed(1),cy:yScale(pts[k+1]).toFixed(1),r:4,fill:color});
      
      
    }
    const tickX = (xa+xb)/2;
    const tk = add(g,'line',{x1:tickX,x2:tickX,y1:p.base,y2:p.base+9,stroke:'#333','stroke-width':2.5});
    
    
    const lab = add(g,'text',{x:tickX+p.labelNudge[i],y:p.labelY,'font-size':54,'text-anchor':'middle'},chromLabels[i]);
    
    
    cum += len;
  });
  const th = add(g,'line',{x1:p.axisX,x2:p.right,y1:yScale(significanceLevel),y2:yScale(significanceLevel),stroke:'#8a8a8a','stroke-width':3.5,'stroke-dasharray':'17 12'});
  
  
  const ya = add(g,'line',{x1:p.axisX,x2:p.axisX,y1:p.top,y2:p.base+2,stroke:'#222','stroke-width':3.5});
  
  
  const xa = add(g,'line',{x1:p.axisX-8,x2:p.right,y1:p.base+1,y2:p.base+1,stroke:'#333','stroke-width':4});
  
  
  manhattanTicks.forEach((t,i)=>{
    const tk = add(g,'line',{x1:p.axisX-9,x2:p.axisX,y1:yScale(t),y2:yScale(t),stroke:'#333','stroke-width':2.5});
    
    
    const lab = add(g,'text',{x:p.yLabelX,y:yScale(t)+p.yNudge[i]+18,'font-size':54,'text-anchor':'middle'},String(t));
    
    
  });
}

function drawQQ(p){
  const xScale = v => p.x0 + v*p.xUnit;
  const yScale = v => p.base - v*p.yUnit;
  const toPts = a => { const o=[]; for(let k=0;k<a.length;k+=2) o.push(xScale(a[k]).toFixed(1)+','+yScale(a[k+1]).toFixed(1)); return o; };
  const g = add(root,'g',{});
  
  
  const lowerRev = toPts(p.lower).reverse();
  const band = add(g,'polygon',{points:toPts(p.upper).concat(lowerRev).join(' '),fill:'#EBEBEB'});
  
  
  const ref = add(g,'line',{x1:xScale(0),y1:yScale(0),x2:xScale(p.xMax),y2:yScale(p.xMax),stroke:'#EFA3A0','stroke-width':3.5});
  
  
  [p.line,p.line2].forEach(arr=>{
    if(!arr.length) return;
    const l = add(g,'polyline',{points:toPts(arr).join(' '),fill:'none',stroke:'#0C4093','stroke-width':arr===p.line?7:5.5,'stroke-linejoin':'round','stroke-linecap':'round'});
    
    
  });
  for (let k=0;k<p.dots.length;k+=2){
    const c = add(g,'circle',{cx:xScale(p.dots[k]).toFixed(1),cy:yScale(p.dots[k+1]).toFixed(1),r:3.2,fill:'#0C4093'});
    
    
  }
  const ya = add(g,'line',{x1:p.x0,x2:p.x0,y1:p.top,y2:p.base+2,stroke:'#666','stroke-width':3});
  
  
  const xa = add(g,'line',{x1:p.x0-4,x2:xScale(p.xMax),y1:p.base+1,y2:p.base+1,stroke:'#555','stroke-width':3.5});
  
  
  qqYTicks.forEach((t,i)=>{
    const tk = add(g,'line',{x1:p.x0-6,x2:p.x0,y1:yScale(t),y2:yScale(t),stroke:'#666','stroke-width':2.5});
    
    
    const lab = add(g,'text',{x:p.yLabelX,y:yScale(t)+p.yNudge[i]+17,'font-size':52,'text-anchor':'middle'},String(t));
    
    
  });
  qqXTicks.forEach((t,i)=>{
    const tk = add(g,'line',{x1:xScale(t),x2:xScale(t),y1:p.base,y2:p.base+6,stroke:'#666','stroke-width':2.5});
    
    
    const lab = add(g,'text',{x:xScale(t)+p.xNudge[i],y:p.labelY,'font-size':52,'text-anchor':'middle'},String(t));
    
    
  });
}

manhattanPanels.forEach(drawManhattan);
qqPanels.forEach(drawQQ);
</script>
</body>
</html>
